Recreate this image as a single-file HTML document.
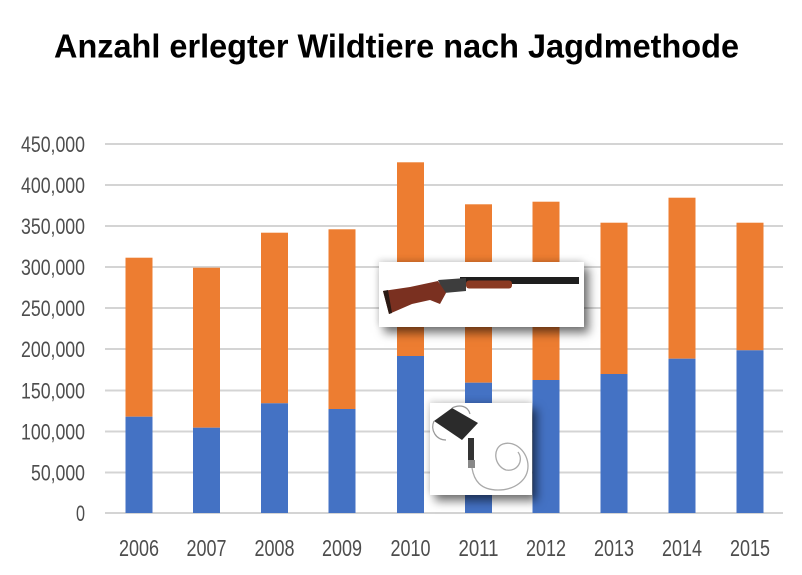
<!DOCTYPE html>
<html>
<head>
<meta charset="utf-8">
<style>
  html, body { margin:0; padding:0; background:#ffffff; }
  body { width:802px; height:575px; position:relative; overflow:hidden; }
  svg { position:absolute; left:0; top:0; }
  .pic { position:absolute; background:#fff; box-shadow: 5px 6px 9px rgba(0,0,0,0.55), -1px -2px 6px rgba(0,0,0,0.15); }
</style>
</head>
<body>
<svg width="802" height="575" viewBox="0 0 802 575" xmlns="http://www.w3.org/2000/svg">
  <text x="54" y="57.5" font-family="Liberation Sans, sans-serif" font-weight="bold" font-size="33" fill="#000" textLength="685" lengthAdjust="spacingAndGlyphs">Anzahl erlegter Wildtiere nach Jagdmethode</text>

  <g stroke="#d4d4d4" stroke-width="2">
    <line x1="105" y1="144" x2="783" y2="144"/>
    <line x1="105" y1="185" x2="783" y2="185"/>
    <line x1="105" y1="226" x2="783" y2="226"/>
    <line x1="105" y1="267" x2="783" y2="267"/>
    <line x1="105" y1="308" x2="783" y2="308"/>
    <line x1="105" y1="349" x2="783" y2="349"/>
    <line x1="105" y1="390.5" x2="783" y2="390.5"/>
    <line x1="105" y1="431.5" x2="783" y2="431.5"/>
    <line x1="105" y1="472.5" x2="783" y2="472.5"/>
    <line x1="105" y1="513" x2="783" y2="513"/>
  </g>

  <g font-family="Liberation Sans, sans-serif" font-size="22" fill="#4d4d4d" text-anchor="end">
    <text x="85" y="152" textLength="64" lengthAdjust="spacingAndGlyphs">450,000</text>
    <text x="85" y="193" textLength="64" lengthAdjust="spacingAndGlyphs">400,000</text>
    <text x="85" y="234" textLength="64" lengthAdjust="spacingAndGlyphs">350,000</text>
    <text x="85" y="275" textLength="64" lengthAdjust="spacingAndGlyphs">300,000</text>
    <text x="85" y="316" textLength="64" lengthAdjust="spacingAndGlyphs">250,000</text>
    <text x="85" y="357" textLength="64" lengthAdjust="spacingAndGlyphs">200,000</text>
    <text x="85" y="398.5" textLength="64" lengthAdjust="spacingAndGlyphs">150,000</text>
    <text x="85" y="439.5" textLength="64" lengthAdjust="spacingAndGlyphs">100,000</text>
    <text x="85" y="480.5" textLength="54" lengthAdjust="spacingAndGlyphs">50,000</text>
    <text x="85" y="521" textLength="9" lengthAdjust="spacingAndGlyphs">0</text>
  </g>

  <g>
    <rect x="125.5" y="257.7" width="27" height="159" fill="#ED7D31"/>
    <rect x="125.5" y="416.7" width="27" height="96.3" fill="#4472C4"/>
    <rect x="193" y="267.7" width="27" height="160" fill="#ED7D31"/>
    <rect x="193" y="427.7" width="27" height="85.3" fill="#4472C4"/>
    <rect x="261" y="232.7" width="27" height="170.6" fill="#ED7D31"/>
    <rect x="261" y="403.3" width="27" height="109.7" fill="#4472C4"/>
    <rect x="328.5" y="229.3" width="27" height="179.7" fill="#ED7D31"/>
    <rect x="328.5" y="409" width="27" height="104" fill="#4472C4"/>
    <rect x="397" y="162.3" width="27" height="193.7" fill="#ED7D31"/>
    <rect x="397" y="356" width="27" height="157" fill="#4472C4"/>
    <rect x="465" y="204.3" width="27" height="178.4" fill="#ED7D31"/>
    <rect x="465" y="382.7" width="27" height="130.3" fill="#4472C4"/>
    <rect x="532.5" y="201.7" width="27" height="178.3" fill="#ED7D31"/>
    <rect x="532.5" y="380" width="27" height="133" fill="#4472C4"/>
    <rect x="600.5" y="222.7" width="27" height="151.3" fill="#ED7D31"/>
    <rect x="600.5" y="374" width="27" height="139" fill="#4472C4"/>
    <rect x="668.5" y="197.7" width="27" height="161" fill="#ED7D31"/>
    <rect x="668.5" y="358.7" width="27" height="154.3" fill="#4472C4"/>
    <rect x="736.5" y="222.7" width="27" height="127.6" fill="#ED7D31"/>
    <rect x="736.5" y="350.3" width="27" height="162.7" fill="#4472C4"/>
  </g>

  <g font-family="Liberation Sans, sans-serif" font-size="23" fill="#4d4d4d" text-anchor="middle">
    <text x="139" y="556" textLength="40" lengthAdjust="spacingAndGlyphs">2006</text>
    <text x="206.5" y="556" textLength="40" lengthAdjust="spacingAndGlyphs">2007</text>
    <text x="274.5" y="556" textLength="40" lengthAdjust="spacingAndGlyphs">2008</text>
    <text x="342" y="556" textLength="40" lengthAdjust="spacingAndGlyphs">2009</text>
    <text x="410.5" y="556" textLength="40" lengthAdjust="spacingAndGlyphs">2010</text>
    <text x="478.5" y="556" textLength="40" lengthAdjust="spacingAndGlyphs">2011</text>
    <text x="546" y="556" textLength="40" lengthAdjust="spacingAndGlyphs">2012</text>
    <text x="614" y="556" textLength="40" lengthAdjust="spacingAndGlyphs">2013</text>
    <text x="682" y="556" textLength="40" lengthAdjust="spacingAndGlyphs">2014</text>
    <text x="750" y="556" textLength="40" lengthAdjust="spacingAndGlyphs">2015</text>
  </g>
</svg>

<div class="pic" style="left:379px; top:262px; width:205px; height:65px;">
  <svg width="205" height="65" viewBox="379 262 205 65" xmlns="http://www.w3.org/2000/svg">
    <rect x="460" y="277" width="119" height="7" fill="#1e1e1e"/>
    <rect x="466" y="280.5" width="46" height="8" rx="3" fill="#8a3a22"/>
    <polygon points="438,280 466,278 466,291 444,293" fill="#3d3d3d"/>
    <polygon points="383,291 410,287 438,281 446,293 440,304 430,300 412,304 389,314" fill="#7a3020"/>
    <polygon points="383,291 388,290 392,313 389,314" fill="#2a1a14"/>
  </svg>
</div>

<div class="pic" style="left:430px; top:403px; width:102px; height:92px;">
  <svg width="102" height="92" viewBox="430 403 102 92" xmlns="http://www.w3.org/2000/svg">
    <polygon points="434,421 452,408 478,423 462,440" fill="#2b2b2b"/>
    <rect x="468" y="438" width="6" height="22" fill="#333"/>
    <rect x="468" y="460" width="7" height="8" fill="#888"/>
    <path d="M472,468 C474,480 480,490 498,490 C515,490 528,480 528,466 C528,452 515,440 503,444 C492,448 494,466 506,470 C518,472 524,460 518,452" fill="none" stroke="#aaa" stroke-width="1.3"/>
    <path d="M434,421 C430,430 436,440 446,440" fill="none" stroke="#999" stroke-width="1.2"/>
    <path d="M452,408 C460,404 468,406 470,414" fill="none" stroke="#999" stroke-width="1.2"/>
  </svg>
</div>
</body>
</html>
